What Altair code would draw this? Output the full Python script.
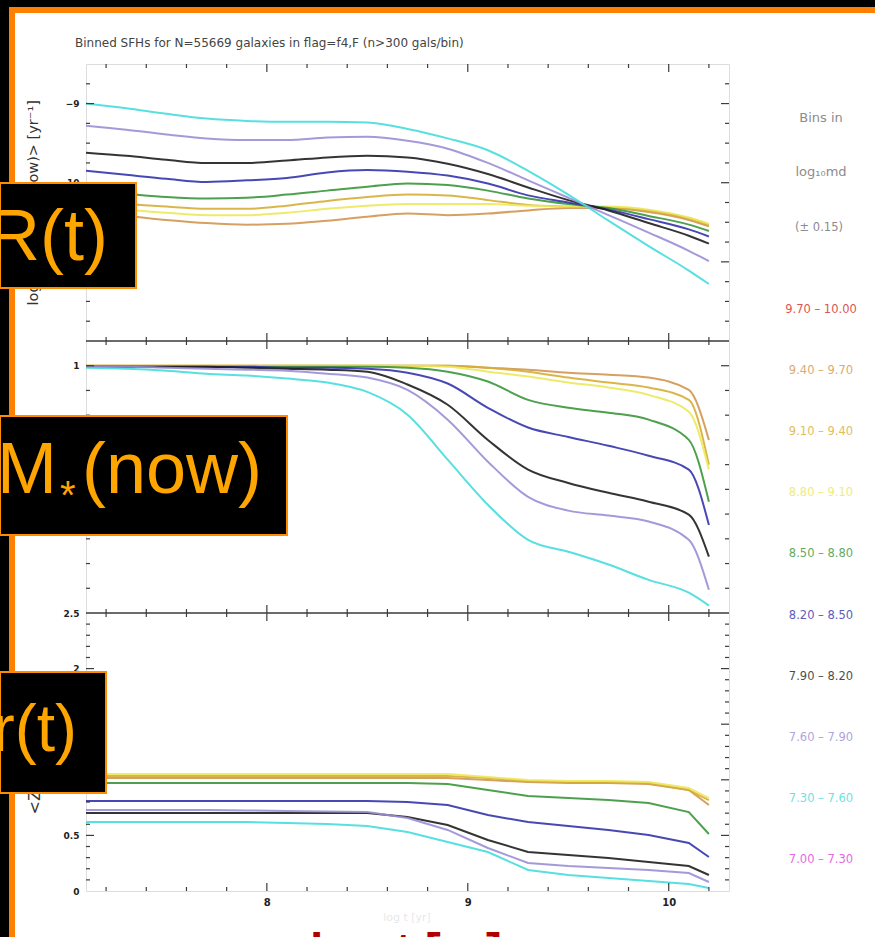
import altair as alt
import pandas as pd

# ------------------------------------------------------------------ data
log_age = [7.1, 7.3, 7.5, 7.7, 7.9, 8.1, 8.3, 8.5, 8.7, 8.9, 9.1, 9.3, 9.5, 9.7, 9.9, 10.1, 10.2]

bins = ["9.70 - 10.00", "9.40 - 9.70", "9.10 - 9.40", "8.80 - 9.10", "8.50 - 8.80",
        "8.20 - 8.50", "7.90 - 8.20", "7.60 - 7.90", "7.30 - 7.60", "7.00 - 7.30"]
bin_colors = ["#d42a2a", "#d29650", "#d6ae36", "#ece85a", "#3a963a",
              "#3434ac", "#1e1e1e", "#9a8fd6", "#46dcdc", "#dd44dd"]
plotted_bins = ["9.40 - 9.70", "9.10 - 9.40", "8.80 - 9.10", "8.50 - 8.80",
                "8.20 - 8.50", "7.90 - 8.20", "7.60 - 7.90", "7.30 - 7.60"]

# top panel: log <SFR(t)>
sfr_940 = [-10.38, -10.42, -10.47, -10.51, -10.53, -10.52, -10.48, -10.43, -10.39, -10.41, -10.39, -10.35, -10.32, -10.32, -10.37, -10.47, -10.55]
sfr_910 = [-10.23, -10.27, -10.30, -10.33, -10.33, -10.29, -10.23, -10.18, -10.15, -10.16, -10.22, -10.28, -10.30, -10.31, -10.35, -10.45, -10.53]
sfr_880 = [-10.30, -10.34, -10.38, -10.41, -10.41, -10.38, -10.33, -10.29, -10.27, -10.27, -10.27, -10.29, -10.30, -10.30, -10.34, -10.44, -10.52]
sfr_850 = [-10.10, -10.14, -10.18, -10.20, -10.19, -10.15, -10.10, -10.05, -10.01, -10.03, -10.10, -10.20, -10.27, -10.32, -10.42, -10.53, -10.61]
sfr_820 = [-9.85, -9.90, -9.95, -9.99, -9.97, -9.94, -9.87, -9.84, -9.86, -9.91, -10.01, -10.16, -10.25, -10.34, -10.46, -10.59, -10.68]
sfr_790 = [-9.62, -9.66, -9.71, -9.75, -9.75, -9.72, -9.68, -9.66, -9.68, -9.76, -9.89, -10.06, -10.22, -10.35, -10.51, -10.67, -10.77]
sfr_760 = [-9.28, -9.33, -9.39, -9.44, -9.46, -9.46, -9.43, -9.42, -9.47, -9.57, -9.75, -9.97, -10.19, -10.41, -10.63, -10.86, -10.99]
sfr_730 = [-9.00, -9.06, -9.13, -9.19, -9.22, -9.23, -9.23, -9.24, -9.32, -9.44, -9.59, -9.85, -10.15, -10.48, -10.80, -11.11, -11.28]

# middle panel: M*(<t) / M*(now)
mf_940 = [1.0, 1.0, 1.0, 1.0, 1.0, 1.0, 1.0, 1.0, 1.0, 1.0, 0.996, 0.992, 0.986, 0.982, 0.976, 0.951, 0.850]
mf_910 = [1.0, 1.0, 1.0, 1.0, 1.0, 1.0, 1.0, 1.0, 1.0, 1.0, 0.996, 0.988, 0.976, 0.966, 0.956, 0.931, 0.800]
mf_880 = [1.0, 1.0, 1.0, 1.0, 1.0, 1.0, 1.0, 1.0, 1.0, 0.998, 0.988, 0.978, 0.966, 0.956, 0.941, 0.907, 0.790]
mf_850 = [0.998, 0.998, 0.998, 0.998, 0.998, 0.998, 0.998, 0.998, 0.996, 0.988, 0.968, 0.931, 0.915, 0.905, 0.891, 0.850, 0.725]
mf_820 = [0.998, 0.998, 0.998, 0.998, 0.998, 0.996, 0.996, 0.994, 0.986, 0.964, 0.915, 0.875, 0.856, 0.838, 0.818, 0.790, 0.678]
mf_790 = [0.998, 0.998, 0.998, 0.998, 0.996, 0.994, 0.992, 0.988, 0.962, 0.921, 0.850, 0.790, 0.763, 0.743, 0.725, 0.699, 0.614]
mf_760 = [0.998, 0.998, 0.996, 0.994, 0.992, 0.990, 0.984, 0.976, 0.951, 0.891, 0.806, 0.735, 0.707, 0.697, 0.685, 0.648, 0.547]
mf_730 = [0.996, 0.994, 0.990, 0.984, 0.980, 0.974, 0.966, 0.947, 0.901, 0.810, 0.719, 0.648, 0.624, 0.598, 0.567, 0.541, 0.515]

# bottom panel: <Z(t)>
z_940 = [1.016, 1.016, 1.016, 1.016, 1.016, 1.016, 1.016, 1.016, 1.016, 1.016, 0.998, 0.980, 0.971, 0.971, 0.962, 0.908, 0.773]
z_910 = [1.034, 1.034, 1.034, 1.034, 1.034, 1.034, 1.034, 1.034, 1.034, 1.034, 1.016, 0.989, 0.980, 0.980, 0.971, 0.908, 0.818]
z_880 = [1.052, 1.052, 1.052, 1.052, 1.052, 1.052, 1.052, 1.052, 1.052, 1.052, 1.025, 0.998, 0.989, 0.989, 0.980, 0.926, 0.836]
z_850 = [0.971, 0.971, 0.971, 0.971, 0.971, 0.971, 0.971, 0.971, 0.971, 0.962, 0.908, 0.854, 0.836, 0.818, 0.791, 0.710, 0.513]
z_820 = [0.809, 0.809, 0.809, 0.809, 0.809, 0.809, 0.809, 0.809, 0.800, 0.773, 0.683, 0.620, 0.585, 0.549, 0.504, 0.432, 0.306]
z_790 = [0.701, 0.701, 0.701, 0.701, 0.701, 0.701, 0.701, 0.701, 0.665, 0.594, 0.459, 0.351, 0.324, 0.297, 0.261, 0.225, 0.144]
z_760 = [0.728, 0.728, 0.728, 0.728, 0.724, 0.720, 0.716, 0.710, 0.656, 0.549, 0.387, 0.252, 0.225, 0.207, 0.189, 0.162, 0.081]
z_730 = [0.620, 0.620, 0.620, 0.620, 0.620, 0.612, 0.603, 0.585, 0.531, 0.441, 0.351, 0.189, 0.144, 0.117, 0.090, 0.063, 0.027]

# tick values
x_ticks_minor = [7.2, 7.4, 7.6, 7.8, 8.2, 8.4, 8.6, 8.8, 9.2, 9.4, 9.6, 9.8, 10.2]
x_ticks_major = [8, 9, 10]
x_labels = [8, 9, 10]
sfr_ticks_minor = [-11.75, -11.5, -11.25, -10.75, -10.5, -10.25, -9.75, -9.5, -9.25, -8.75]
sfr_ticks_major = [-11, -10, -9]
sfr_labels = [-9, -10]
mf_ticks_minor = [0.55, 0.6, 0.65, 0.7, 0.75, 0.8, 0.85, 0.9, 0.95]
mf_ticks_major = [1.0]
mf_labels = [1]
z_ticks_minor = [0.1, 0.2, 0.3, 0.4, 0.6, 0.7, 0.8, 0.9, 1.1, 1.2, 1.3, 1.4,
                 1.6, 1.7, 1.8, 1.9, 2.1, 2.2, 2.3, 2.4]
z_ticks_major = [0.5, 1.0, 1.5, 2.0]
z_labels = [0, 0.5, 2, 2.5]

title_text = "Binned SFHs for N=55669 galaxies in flag=f4,F  (n>300 gals/bin)"

# ------------------------------------------------------------------ layout
W, H = 643, 827          # plot area (x 86..729, y 64..891 in the page)
PL, PT = 86, 64
Y1, Y2 = 277, 549        # panel separators
TICK = "#3c3c3c"

X = alt.X("x:Q", scale=alt.Scale(domain=[7.1, 10.3], nice=False, zero=False),
          axis=alt.Axis(values=x_labels, tickSize=0, domain=False, grid=False,
                        labelPadding=6, labelFontSize=10, labelFontWeight="bold",
                        labelColor="#222", labelFont="DejaVu Sans", format="d",
                        title=None))
COLOR = alt.Color("bin:N", scale=alt.Scale(domain=bins, range=bin_colors), legend=None)

one = pd.DataFrame({"k": [0]})


def long_df(series):
    rows = []
    for b, vals in zip(plotted_bins, series):
        for xv, yv in zip(log_age, vals):
            rows.append({"x": xv, "y": yv, "bin": b})
    return pd.DataFrame(rows)


def panel(series, dom, rng, axis, tminor, tmajor, interp):
    Y = alt.Y("y:Q", scale=alt.Scale(domain=dom, range=rng, nice=False, zero=False),
              axis=axis)
    lines = alt.Chart(long_df(series)).mark_line(
        strokeWidth=2, interpolate=interp, opacity=0.9
    ).encode(x=X, y=Y, color=COLOR)
    layers = [lines]
    for vals, ln in ((tminor, 4), (tmajor, 8)):
        d = pd.DataFrame({"y": vals})
        layers.append(alt.Chart(d).mark_rule(color=TICK, strokeWidth=1.2).encode(
            x=alt.value(0), x2=alt.value(ln), y=Y))
        layers.append(alt.Chart(d).mark_rule(color=TICK, strokeWidth=1.2).encode(
            x=alt.value(W - ln), x2=alt.value(W), y=Y))
    return alt.layer(*layers)


def yaxis(values, title, tx, ty, talign, tsize):
    return alt.Axis(orient="left", values=values, tickSize=0, domain=False, grid=False,
                    labelPadding=7, labelFontSize=9, labelFontWeight="bold",
                    labelColor="#222", labelFont="DejaVu Sans", format="~g",
                    title=title, titleX=tx, titleY=ty, titleAngle=-90,
                    titleAlign=talign, titleBaseline="middle", titleFontSize=tsize,
                    titleFontWeight="normal", titleColor="#333", titleFont="DejaVu Sans")


top = panel([sfr_940, sfr_910, sfr_880, sfr_850, sfr_820, sfr_790, sfr_760, sfr_730],
            [-12, -8.5], [Y1, 0],
            yaxis(sfr_labels, "log <SFR(t)/M*(now)> [yr⁻¹]", -53, 241, "left", 14.5),
            sfr_ticks_minor, sfr_ticks_major, "monotone")
mid = panel([mf_940, mf_910, mf_880, mf_850, mf_820, mf_790, mf_760, mf_730],
            [0.5, 1.05], [Y2, Y1],
            yaxis(mf_labels, "M*(<t)/M*(now)", -53, 413, "center", 13),
            mf_ticks_minor, mf_ticks_major, "monotone")
bot = panel([z_940, z_910, z_880, z_850, z_820, z_790, z_760, z_730],
            [0, 2.5], [H, Y2],
            yaxis(z_labels, "<Z(t)/Z☉>", -52, 750, "left", 16),
            z_ticks_minor, z_ticks_major, "linear")


def rect(x0, x1, y0, y1, fill, stroke=None):
    kw = {"fill": fill}
    if stroke:
        kw.update(stroke=stroke, strokeWidth=2)
    else:
        kw.update(strokeWidth=0)
    return alt.Chart(one).mark_rect(**kw).encode(
        x=alt.value(x0 - PL), x2=alt.value(x1 - PL),
        y=alt.value(y0 - PT), y2=alt.value(y1 - PT))


def text(s, x, y, size, color, align="left", baseline="alphabetic",
         font="DejaVu Sans", weight="normal", opacity=1.0):
    return alt.Chart(one).mark_text(
        text=s, align=align, baseline=baseline, font=font, fontSize=size,
        fontWeight=weight, color=color, opacity=opacity
    ).encode(x=alt.value(x - PL), y=alt.value(y - PT))


# slide border (black strip + orange rule)
decor = [
    rect(0, 875, 0, 7, "#000000"),
    rect(0, 875, 7, 13, "#ff8000"),
    rect(0, 9, 0, 937, "#000000"),
    rect(9, 15, 7, 937, "#ff8000"),
]

# panel separators and x ticks on each frame line
frames = []
for yy in (Y1, Y2):
    frames.append(alt.Chart(one).mark_rule(color="#3a3a3a", strokeWidth=1.5).encode(
        x=alt.value(0), x2=alt.value(W), y=alt.value(yy)))
for vals, ln in ((x_ticks_minor, 4), (x_ticks_major, 8)):
    d = pd.DataFrame({"x": vals})
    frames.append(alt.Chart(d).mark_rule(color=TICK, strokeWidth=1.2).encode(
        x=X, y=alt.value(0), y2=alt.value(ln)))
    frames.append(alt.Chart(d).mark_rule(color=TICK, strokeWidth=1.2).encode(
        x=X, y=alt.value(H - ln), y2=alt.value(H)))
    for yy in (Y1, Y2):
        frames.append(alt.Chart(d).mark_rule(color=TICK, strokeWidth=1.2).encode(
            x=X, y=alt.value(yy - ln), y2=alt.value(yy + ln)))

# right-hand text legend of mass bins
legend_df = pd.DataFrame({"bin": bins,
                          "label": [b.replace(" - ", "  –  ") for b in bins]})
legend_text = alt.Chart(legend_df).mark_text(
    align="center", baseline="middle", font="DejaVu Sans", fontSize=11.5, opacity=0.8
).encode(
    x=alt.value(821 - PL),
    y=alt.Y("bin:N", scale=alt.Scale(domain=bins, range=[310 - PT, 860 - PT], padding=0),
            axis=None),
    text="label:N",
    color=COLOR,
)
headers = [
    text("Bins in", 821, 118, 13, "#8c8c8c", align="center", baseline="middle"),
    text("log₁₀md", 821, 172, 13, "#8c8c8c", align="center", baseline="middle"),
    text("(± 0.15)", 819, 228, 11.5, "#8c8c8c", align="center", baseline="middle"),
    text(title_text, 75, 43, 12, "#444444", baseline="middle"),
    text("log t [yr]", 407, 921, 11, "#bbbbbb", align="center", opacity=0.35),
]

# slide overlays
overlays = [
    rect(0, 136, 183, 288, "#000000", "#ff8c00"),
    text("SFR(t)", 108, 260, 72, "#ffa500", align="right", font="Liberation Sans"),
    rect(0, 287, 416, 535, "#000000", "#ff8c00"),
    text("M", 57, 493, 72, "#ffa500", align="right", font="Liberation Sans"),
    text("*", 60, 509, 40, "#ffa500", font="Liberation Sans"),
    text("(now)", 82, 493, 72, "#ffa500", font="Liberation Sans"),
    rect(0, 106, 672, 793, "#000000", "#ff8c00"),
    text("r(t)", 77, 751, 66, "#ffa500", align="right", font="Liberation Sans"),
    text("log t [yr]", 310, 967, 48, "#b00000", font="Liberation Sans", weight="bold"),
]

chart = alt.layer(
    *decor, top, mid, bot, *frames, legend_text, *headers, *overlays
).resolve_scale(y="independent").properties(
    width=W, height=H,
    padding={"left": PL, "top": PT, "right": 875 - PL - W, "bottom": 937 - PT - H},
    autosize=alt.AutoSizeParams(type="none"),
).configure_view(stroke="#3a3a3a", strokeWidth=1.5).configure(background="white")

chart.save("out.html", embed_options={"renderer": "svg", "actions": False})
